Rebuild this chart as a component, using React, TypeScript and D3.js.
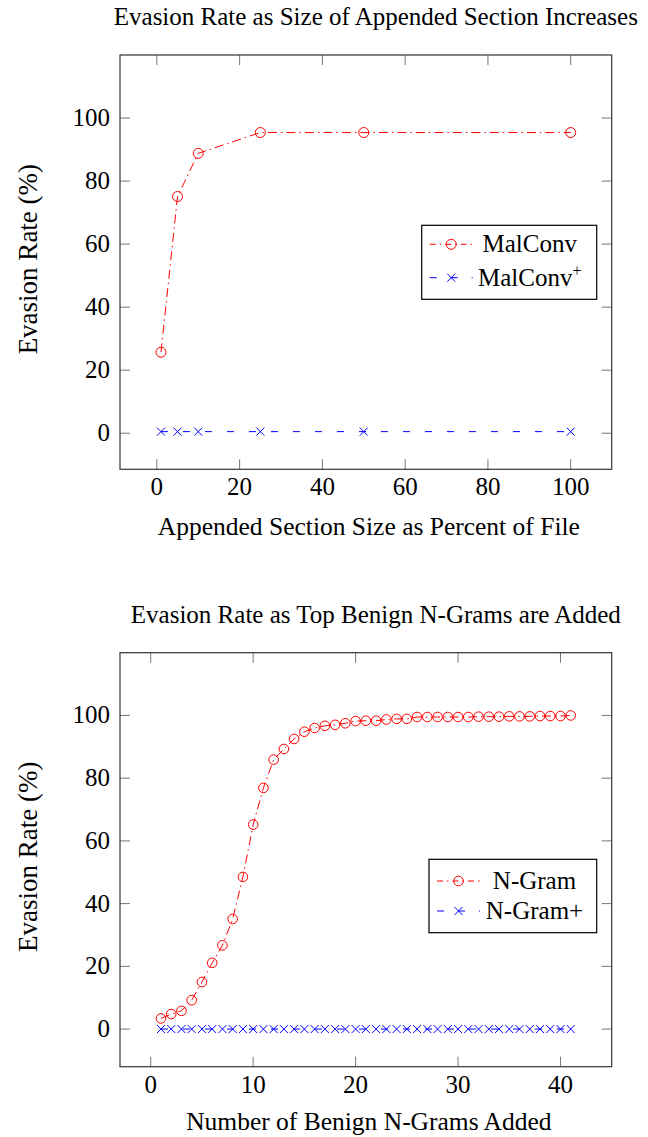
import React from 'react';
import * as d3 from 'd3';

// top chart data
const sizePct = [1, 5, 10, 25, 50, 100];
const malconv = [25.7, 75.1, 88.8, 95.4, 95.4, 95.4];
const malconvPlus = [0.5, 0.5, 0.5, 0.5, 0.5, 0.5];

// bottom chart data
const ngramCount = [1, 2, 3, 4, 5, 6, 7, 8, 9, 10, 11, 12, 13, 14, 15, 16, 17, 18, 19, 20,
  21, 22, 23, 24, 25, 26, 27, 28, 29, 30, 31, 32, 33, 34, 35, 36, 37, 38, 39, 40, 41];
const ngram = [3.4, 4.8, 5.8, 9.2, 15.0, 21.1, 26.7, 35.1, 48.5, 65.2, 76.9, 85.9, 89.3, 92.5,
  94.8, 96.0, 96.7, 97.0, 97.5, 98.2, 98.3, 98.3, 98.7, 98.9, 98.9, 99.5, 99.5, 99.5, 99.5,
  99.5, 99.5, 99.6, 99.6, 99.6, 99.7, 99.7, 99.7, 99.8, 99.8, 99.8, 100];
const ngramPlus = [0, 0, 0, 0, 0, 0, 0, 0, 0, 0, 0, 0, 0, 0, 0, 0, 0, 0, 0, 0,
  0, 0, 0, 0, 0, 0, 0, 0, 0, 0, 0, 0, 0, 0, 0, 0, 0, 0, 0, 0, 0];

const topXTicks = [0, 20, 40, 60, 80, 100];
const botXTicks = [0, 10, 20, 30, 40];
const yTicks = [0, 20, 40, 60, 80, 100];

const font = '"Liberation Serif", "Times New Roman", serif';
const fs = 25;
const left = 120;
const right = 611.7;
const tickLen = 10;
const redDash = '9 4 1.5 4';
const blueDash = '7 15';

function Circle({ x, y, r = 5 }) {
  return <circle cx={x} cy={y} r={r} fill="none" stroke="#ff0000" strokeWidth={1} />;
}

function Cross({ x, y, s = 4 }) {
  return (
    <path d={`M${x - s},${y - s}L${x + s},${y + s}M${x - s},${y + s}L${x + s},${y - s}`}
      stroke="#0000ff" strokeWidth={1} fill="none" />
  );
}

function Chart(props) {
  const { top, bottom, xDomain, yDomain, xTicks, xs, red, blue, title, xLabel, xLabelDy,
    legendNames, legend, r } = props;
  const x = d3.scaleLinear().domain(xDomain).range([left, right]);
  const y = d3.scaleLinear().domain(yDomain).range([bottom, top]);
  const line = d3.line<number>().x((d, i) => x(xs[i])).y(d => y(d));
  const lx = legend.x;
  const ly = legend.y;

  return (
    <g fontFamily={font} fontSize={fs} fill="#000">
      <text x={(left + right) / 2 + 10} y={top - 30} textAnchor="middle">{title}</text>

      {xTicks.map(t => (
        <g key={'x' + t} stroke="#777" strokeWidth={1}>
          <line x1={x(t)} x2={x(t)} y1={bottom} y2={bottom - tickLen} />
          <line x1={x(t)} x2={x(t)} y1={top} y2={top + tickLen} />
        </g>
      ))}
      {yTicks.map(t => (
        <g key={'y' + t} stroke="#777" strokeWidth={1}>
          <line x1={left} x2={left + tickLen} y1={y(t)} y2={y(t)} />
          <line x1={right} x2={right - tickLen} y1={y(t)} y2={y(t)} />
        </g>
      ))}
      <rect x={left} y={top} width={right - left} height={bottom - top} fill="none" stroke="#333" strokeWidth={1.2} />

      {xTicks.map(t => (
        <text key={'xl' + t} x={x(t)} y={bottom + 26} textAnchor="middle">{t}</text>
      ))}
      {yTicks.map(t => (
        <text key={'yl' + t} x={left - 10} y={y(t) + 8} textAnchor="end">{t}</text>
      ))}

      <text x={(left + right) / 2 + 3} y={bottom + xLabelDy} textAnchor="middle" fontSize={25.5}>{xLabel}</text>
      <text transform={`translate(37,${(top + bottom) / 2 - 3}) rotate(-90)`} textAnchor="middle" fontSize={27}>Evasion Rate (%)</text>

      <path d={line(blue) || ''} fill="none" stroke="#0000ff" strokeWidth={1} strokeDasharray={blueDash} />
      <path d={line(red) || ''} fill="none" stroke="#ff0000" strokeWidth={1} strokeDasharray={redDash} />
      {blue.map((v, i) => <Cross key={'b' + i} x={x(xs[i])} y={y(v)} />)}
      {red.map((v, i) => <Circle key={'r' + i} x={x(xs[i])} y={y(v)} r={r} />)}

      <rect x={lx} y={ly} width={legend.w} height={legend.h} fill="#fff" stroke="#000" strokeWidth={1.2} />
      <line x1={lx + 8} x2={lx + 51} y1={ly + legend.r1} y2={ly + legend.r1} stroke="#ff0000" strokeDasharray="6 4 1.5 4" />
      <Circle x={lx + 29.5} y={ly + legend.r1} r={r} />
      <line x1={lx + 8} x2={lx + 51} y1={ly + legend.r2} y2={ly + legend.r2} stroke="#0000ff" strokeDasharray="7 14" />
      <Cross x={lx + 29.5} y={ly + legend.r2} />
      <text x={lx + legend.tc} y={ly + legend.r1 + 8} textAnchor="middle">{legendNames[0]}</text>
      <text x={lx + legend.tc} y={ly + legend.r2 + 8} textAnchor="middle">
        {legendNames[1]}
        {legend.sup ? <tspan fontSize={16} dy={-10}>+</tspan> : null}
      </text>
    </g>
  );
}

export default function App() {
  return (
    <svg width={648} height={1137} style={{ position: 'absolute', left: 0, top: 0, background: '#fff' }}>
      <Chart
        top={55} bottom={469.3}
        xDomain={[-8.9, 109.9]} yDomain={[-11.45, 120]}
        xTicks={topXTicks} xs={sizePct} red={malconv} blue={malconvPlus}
        title="Evasion Rate as Size of Appended Section Increases"
        xLabel="Appended Section Size as Percent of File" xLabelDy={66}
        legendNames={['MalConv', 'MalConv']}
        legend={{ x: 421.7, y: 225.3, w: 175, h: 74, r1: 19, r2: 52.4, tc: 108, sup: true }}
        r={5}
      />
      <Chart
        top={652.7} bottom={1066.7}
        xDomain={[-3, 45]} yDomain={[-12, 120]}
        xTicks={botXTicks} xs={ngramCount} red={ngram} blue={ngramPlus}
        title="Evasion Rate as Top Benign N-Grams are Added"
        xLabel="Number of Benign N-Grams Added" xLabelDy={63.5}
        legendNames={['N-Gram', 'N-Gram+']}
        legend={{ x: 429, y: 859.3, w: 167.7, h: 73.4, r1: 21.7, r2: 51.7, tc: 105.5, sup: false }}
        r={4.8}
      />
    </svg>
  );
}
